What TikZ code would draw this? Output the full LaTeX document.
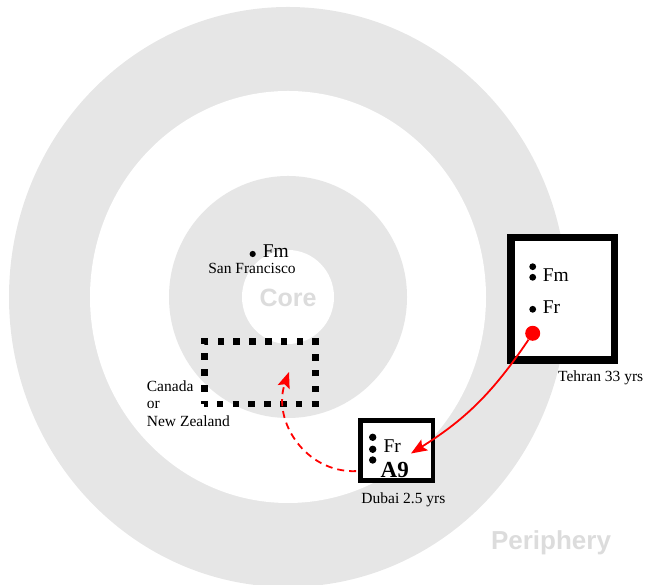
\documentclass[tikz,border=0pt]{standalone}
\usepackage{fontspec}
\setmainfont{Liberation Serif}
\newfontfamily\zonefont{Liberation Sans}
\usetikzlibrary{calc}
\usetikzlibrary{arrows.meta}

\definecolor{ringgray}{HTML}{E6E6E6}
\definecolor{zonegray}{HTML}{DCDCDC}

\tikzset{
  dot/.style={circle, fill=black, inner sep=0pt, minimum size=6.8pt},
  member/.style={inner sep=0pt, font=\fontsize{19.5}{22}\selectfont},
  place/.style={inner sep=0pt, font=\fontsize{15.5}{17.5}\selectfont},
  zone/.style={text=zonegray, font=\zonefont\bfseries\fontsize{25}{28}\selectfont},
  move/.style={red, line width=1.8pt, -{Stealth[length=16pt, width=12.5pt, inset=3pt]}},
}

\begin{document}
\begin{tikzpicture}[x=1pt, y=1pt]
                \useasboundingbox (0,0) rectangle (648,585);
                \fill[ringgray] (288,288) ellipse[x radius=279, y radius=290];
                \fill[white] (288,288) ellipse[x radius=198, y radius=206];
                \fill[ringgray] (288,288) ellipse[x radius=119, y radius=121];
                \fill[white] (288,288) ellipse[x radius=46, y radius=47];
                \node[zone] (core) at (288,287) {Core};
                \node[zone, font=\zonefont\bfseries\fontsize{26}{28}\selectfont] (periphery) at (551,42) {Periphery};
                \node[dot, minimum size=6.2pt] (sfdot) at (252.7,331) {};
                \node[member, anchor=base west] (sffm) at (262.7,327.7) {Fm};
                \node[place, anchor=base] (sf) at (252,311.7) {San Francisco};
                \node[draw, line width=6.6pt, dash pattern=on 6.6pt off 9.2pt, dash phase=3.3pt,
                      minimum width=111.4pt, minimum height=62.3pt, inner sep=0pt] (nzbox) at (260,212.2) {};
                \node[place, anchor=north west, align=left] (nz) at (146.7,204.6) {Canada\\or\\New Zealand};
                \node[draw, line width=7.5pt, fill=white, minimum width=103.5pt, minimum height=122.5pt] (tehran) at (562.5,286) {};
                \node[dot] (tdot1) at (532.7,318.3) {};
                \node[dot] (tdot2) at (532.7,307.7) {};
                \node[dot] (tdot3) at (532.7,275.7) {};
                \node[member, anchor=base west] (tfm) at (542.7,303.3) {Fm};
                \node[member, anchor=base west] (tfr) at (542.7,271.7) {Fr};
                \node[dot, fill=red, minimum size=15pt] (tred) at (532.7,251.7) {};
                \node[place, anchor=base west] (tehranlbl) at (558,203) {Tehran 33 yrs};
                \node[draw, line width=4.3pt, fill=white, minimum width=72.5pt, minimum height=60pt] (dubai) at (396.75,134.5) {};
                \node[dot, minimum size=7.4pt] (ddot1) at (372.7,147.7) {};
                \node[dot, minimum size=7.4pt] (ddot2) at (372.7,135.7) {};
                \node[dot, minimum size=7.4pt] (ddot3) at (372.7,125) {};
                \node[member, anchor=base west] (dfr) at (383.3,132.7) {Fr};
                \node[member, anchor=base west, font=\bfseries\fontsize{23}{25}\selectfont] (da9) at (380.5,107) {A9};
                \node[place, anchor=base] (dubailbl) at (403.4,81) {Dubai 2.5 yrs};
                \coordinate (dout) at ($(dubai.south west)+(-2.2,11.5)$);
                \coordinate (dtip) at (411,131.5);
                \coordinate (nztip) at (289,213);
                \draw[move] (tred) to[bend left=12] (dtip);
                \draw[move, dash pattern=on 7pt off 5pt] (dout) .. controls (305,112) and (272,165) .. (nztip);
            \end{tikzpicture}
\end{document}
